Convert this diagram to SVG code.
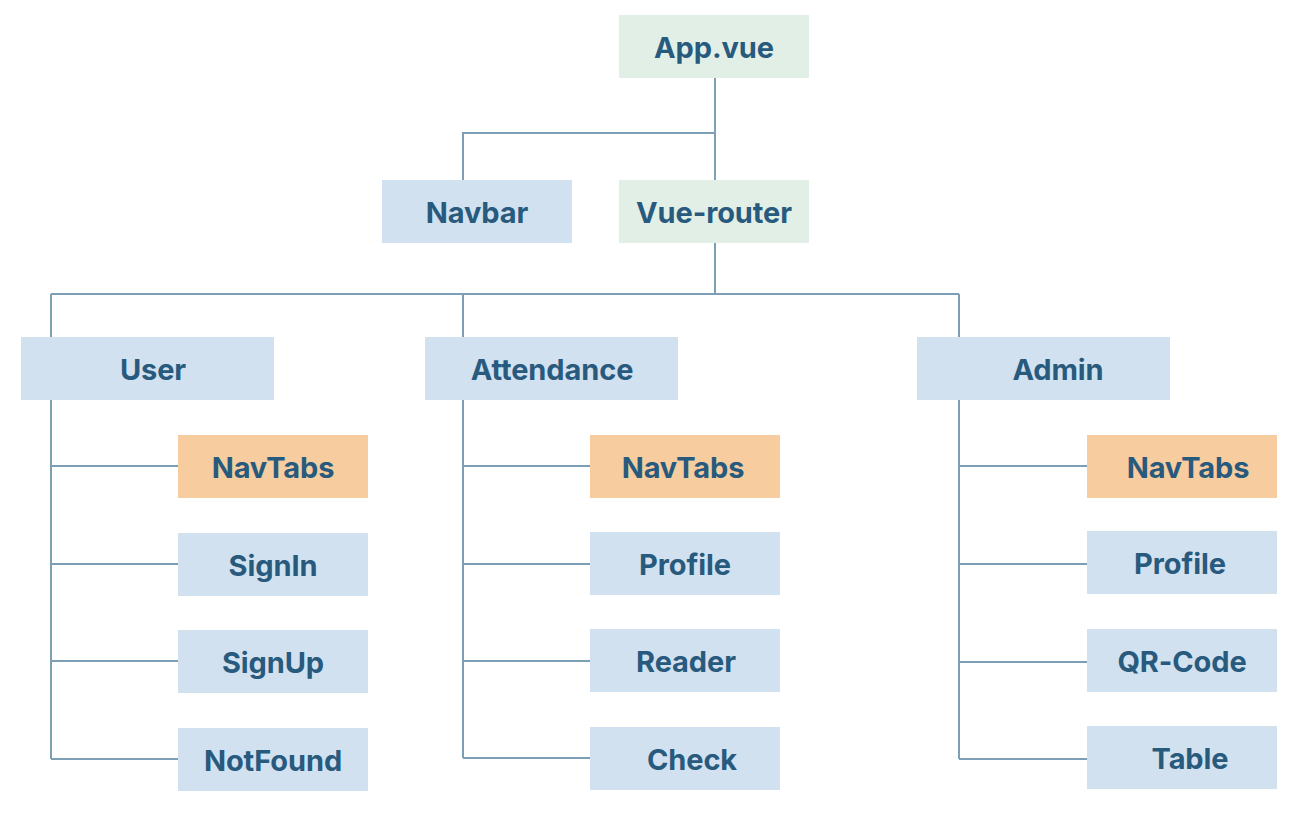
<svg xmlns="http://www.w3.org/2000/svg" width="1314" height="834" viewBox="0 0 1314 834">
<style>
.b{fill:#d2e1f0}.g{fill:#e2efe7}.o{fill:#f7cc9e}
text{font-family:Inter,"Liberation Sans",sans-serif;font-weight:700;font-size:29px;letter-spacing:-0.1px;fill:#285a7e;text-anchor:middle;dominant-baseline:central}
.c path{fill:none;stroke:#7d9fb6;stroke-width:2}
</style>
<rect width="1314" height="834" fill="#fff"/>
<g class="c" id="connectors">
<path d="M715 78V180M715 133H463V180"/>
<path d="M715 243V294M51 294H959M51 294V337M463 294V337M959 294V337"/>
<path d="M51 400V759M51 466H178M51 564H178M51 661H178M51 759H178"/>
<path d="M463 400V758M463 466H590M463 564H590M463 661H590M463 758H590"/>
<path d="M959 400V759M959 466H1087M959 564H1087M959 662H1087M959 759H1087"/>
</g>
<g id="app"><rect class="g" x="619" y="15" width="190" height="63"/><text x="714" y="47">App.vue</text></g>
<g id="navbar"><rect class="b" x="382" y="180" width="190" height="63"/><text x="477" y="212">Navbar</text></g>
<g id="vuerouter"><rect class="g" x="619" y="180" width="190" height="63"/><text x="714" y="212">Vue-router</text></g>
<g id="user"><rect class="b" x="21" y="337" width="253" height="63"/><text x="153" y="369">User</text></g>
<g id="attendance"><rect class="b" x="425" y="337" width="253" height="63"/><text x="552" y="369">Attendance</text></g>
<g id="admin"><rect class="b" x="917" y="337" width="253" height="63"/><text x="1058" y="369">Admin</text></g>
<g id="user-navtabs"><rect class="o" x="178" y="435" width="190" height="63"/><text x="273" y="467">NavTabs</text></g>
<g id="user-signin"><rect class="b" x="178" y="533" width="190" height="63"/><text x="273" y="565">SignIn</text></g>
<g id="user-signup"><rect class="b" x="178" y="630" width="190" height="63"/><text x="273" y="662">SignUp</text></g>
<g id="user-notfound"><rect class="b" x="178" y="728" width="190" height="63"/><text x="273" y="760">NotFound</text></g>
<g id="att-navtabs"><rect class="o" x="590" y="435" width="190" height="63"/><text x="683" y="467">NavTabs</text></g>
<g id="att-profile"><rect class="b" x="590" y="532" width="190" height="63"/><text x="685" y="564">Profile</text></g>
<g id="att-reader"><rect class="b" x="590" y="629" width="190" height="63"/><text x="686" y="661">Reader</text></g>
<g id="att-check"><rect class="b" x="590" y="727" width="190" height="63"/><text x="692" y="759">Check</text></g>
<g id="admin-navtabs"><rect class="o" x="1087" y="435" width="190" height="63"/><text x="1188" y="467">NavTabs</text></g>
<g id="admin-profile"><rect class="b" x="1087" y="531" width="190" height="63"/><text x="1180" y="563">Profile</text></g>
<g id="admin-qrcode"><rect class="b" x="1087" y="629" width="190" height="63"/><text x="1182" y="661">QR-Code</text></g>
<g id="admin-table"><rect class="b" x="1087" y="726" width="190" height="63"/><text x="1190" y="758">Table</text></g>
</svg>
